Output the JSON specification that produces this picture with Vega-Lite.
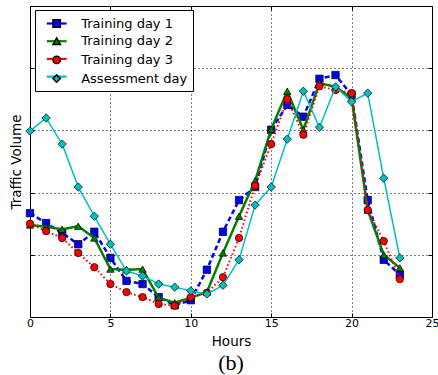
{
  "$schema": "https://vega.github.io/schema/vega-lite/v6.json",
  "width": 402,
  "height": 311,
  "autosize": "none",
  "padding": {"left": 30, "top": 6, "right": 6, "bottom": 58},
  "config": {
    "font": "DejaVu Sans",
    "view": {"stroke": "black", "strokeWidth": 1},
    "axis": {
      "gridColor": "black",
      "gridDash": [1, 3],
      "gridOpacity": 1,
      "gridWidth": 1,
      "domain": false,
      "tickColor": "black",
      "tickSize": -4,
      "labelColor": "black",
      "labelFlush": false,
      "titleColor": "black",
      "titleFontWeight": "normal",
      "titleFontSize": 13.5,
      "labelFontSize": 11
    }
  },
  "title": {"text": "(b)", "orient": "bottom", "font": "Liberation Serif", "fontSize": 22, "fontWeight": "normal", "color": "black", "offset": 5},
  "data": {"values": [
    {"h":0,"s":"Training day 1","v":1.67},{"h":1,"s":"Training day 1","v":1.51},{"h":2,"s":"Training day 1","v":1.35},{"h":3,"s":"Training day 1","v":1.17},{"h":4,"s":"Training day 1","v":1.37},{"h":5,"s":"Training day 1","v":0.95},{"h":6,"s":"Training day 1","v":0.58},{"h":7,"s":"Training day 1","v":0.53},{"h":8,"s":"Training day 1","v":0.32},{"h":9,"s":"Training day 1","v":0.19},{"h":10,"s":"Training day 1","v":0.27},{"h":11,"s":"Training day 1","v":0.76},{"h":12,"s":"Training day 1","v":1.37},{"h":13,"s":"Training day 1","v":1.88},{"h":14,"s":"Training day 1","v":2.09},{"h":15,"s":"Training day 1","v":3.01},{"h":16,"s":"Training day 1","v":3.41},{"h":17,"s":"Training day 1","v":3.22},{"h":18,"s":"Training day 1","v":3.83},{"h":19,"s":"Training day 1","v":3.89},{"h":20,"s":"Training day 1","v":3.57},{"h":21,"s":"Training day 1","v":1.88},{"h":22,"s":"Training day 1","v":0.92},{"h":23,"s":"Training day 1","v":0.68},
    {"h":0,"s":"Training day 2","v":1.48},{"h":1,"s":"Training day 2","v":1.45},{"h":2,"s":"Training day 2","v":1.41},{"h":3,"s":"Training day 2","v":1.46},{"h":4,"s":"Training day 2","v":1.27},{"h":5,"s":"Training day 2","v":0.77},{"h":6,"s":"Training day 2","v":0.76},{"h":7,"s":"Training day 2","v":0.77},{"h":8,"s":"Training day 2","v":0.31},{"h":9,"s":"Training day 2","v":0.23},{"h":10,"s":"Training day 2","v":0.31},{"h":11,"s":"Training day 2","v":0.40},{"h":12,"s":"Training day 2","v":1.03},{"h":13,"s":"Training day 2","v":1.62},{"h":14,"s":"Training day 2","v":2.19},{"h":15,"s":"Training day 2","v":3.02},{"h":16,"s":"Training day 2","v":3.63},{"h":17,"s":"Training day 2","v":3.01},{"h":18,"s":"Training day 2","v":3.76},{"h":19,"s":"Training day 2","v":3.70},{"h":20,"s":"Training day 2","v":3.52},{"h":21,"s":"Training day 2","v":1.72},{"h":22,"s":"Training day 2","v":1.00},{"h":23,"s":"Training day 2","v":0.79},
    {"h":0,"s":"Training day 3","v":1.50},{"h":1,"s":"Training day 3","v":1.38},{"h":2,"s":"Training day 3","v":1.27},{"h":3,"s":"Training day 3","v":1.03},{"h":4,"s":"Training day 3","v":0.80},{"h":5,"s":"Training day 3","v":0.53},{"h":6,"s":"Training day 3","v":0.40},{"h":7,"s":"Training day 3","v":0.32},{"h":8,"s":"Training day 3","v":0.21},{"h":9,"s":"Training day 3","v":0.18},{"h":10,"s":"Training day 3","v":0.32},{"h":11,"s":"Training day 3","v":0.39},{"h":12,"s":"Training day 3","v":0.64},{"h":13,"s":"Training day 3","v":1.27},{"h":14,"s":"Training day 3","v":2.11},{"h":15,"s":"Training day 3","v":2.78},{"h":16,"s":"Training day 3","v":3.50},{"h":17,"s":"Training day 3","v":2.93},{"h":18,"s":"Training day 3","v":3.71},{"h":19,"s":"Training day 3","v":3.65},{"h":20,"s":"Training day 3","v":3.60},{"h":21,"s":"Training day 3","v":1.72},{"h":22,"s":"Training day 3","v":1.22},{"h":23,"s":"Training day 3","v":0.61},
    {"h":0,"s":"Assessment day","v":2.99},{"h":1,"s":"Assessment day","v":3.20},{"h":2,"s":"Assessment day","v":2.78},{"h":3,"s":"Assessment day","v":2.09},{"h":4,"s":"Assessment day","v":1.62},{"h":5,"s":"Assessment day","v":1.17},{"h":6,"s":"Assessment day","v":0.74},{"h":7,"s":"Assessment day","v":0.66},{"h":8,"s":"Assessment day","v":0.53},{"h":9,"s":"Assessment day","v":0.48},{"h":10,"s":"Assessment day","v":0.42},{"h":11,"s":"Assessment day","v":0.37},{"h":12,"s":"Assessment day","v":0.51},{"h":13,"s":"Assessment day","v":0.92},{"h":14,"s":"Assessment day","v":1.80},{"h":15,"s":"Assessment day","v":2.09},{"h":16,"s":"Assessment day","v":2.86},{"h":17,"s":"Assessment day","v":3.63},{"h":18,"s":"Assessment day","v":3.05},{"h":19,"s":"Assessment day","v":3.70},{"h":20,"s":"Assessment day","v":3.46},{"h":21,"s":"Assessment day","v":3.60},{"h":22,"s":"Assessment day","v":2.23},{"h":23,"s":"Assessment day","v":0.95}
  ]},
  "encoding": {
    "x": {"field": "h", "type": "quantitative", "scale": {"domain": [0, 25], "nice": false, "zero": false}, "axis": null},
    "y": {"field": "v", "type": "quantitative", "scale": {"domain": [0, 5], "nice": false}, "axis": null}
  },
  "layer": [
    {"transform": [{"filter": "datum.s === 'Training day 1'"}],
     "mark": {"type": "line", "strokeWidth": 2.5},
     "encoding": {
       "x": {"field": "h", "type": "quantitative", "title": "Hours",
             "axis": {"orient": "bottom", "grid": true, "values": [0, 5, 10, 15, 20, 25], "labelPadding": 4, "titlePadding": 6}},
       "y": {"field": "v", "type": "quantitative", "title": "Traffic Volume",
             "axis": {"orient": "left", "grid": true, "values": [0, 1, 2, 3, 4, 5], "labels": false, "titlePadding": 6}},
       "stroke": {"field": "s", "type": "nominal", "sort": ["Training day 1", "Training day 2", "Training day 3", "Assessment day"], "scale": {"range": ["#0000ff", "#008000", "#ff0000", "#00bfbf"]},
                  "legend": {"title": null, "orient": "none", "legendX": 5, "legendY": 4, "strokeColor": "black", "fillColor": "white", "padding": 7, "labelFontSize": 13, "labelExpr": "''", "symbolType": "M-2.6,0H2.6", "symbolSize": 58, "symbolStrokeWidth": 2.2, "symbolFillColor": "transparent", "symbolOffset": 8.2, "labelOffset": 122, "rowPadding": 3.7}},
       "strokeDash": {"field": "s", "type": "nominal", "sort": ["Training day 1", "Training day 2", "Training day 3", "Assessment day"], "scale": {"range": [[5, 3], [1, 0], [1.5, 2.5], [1, 0]]}, "legend": null}
     }},
    {"transform": [{"filter": "datum.s === 'Training day 1'"}],
     "mark": {"type": "point", "filled": true, "stroke": "black", "strokeWidth": 0.7, "size": 55, "opacity": 1},
     "encoding": {
       "x": {"field": "h", "type": "quantitative", "axis": {"orient": "top", "grid": false, "labels": false, "title": null, "values": [5, 10, 15, 20]}},
       "y": {"field": "v", "type": "quantitative", "axis": {"orient": "right", "grid": false, "labels": false, "title": null, "values": [1, 2, 3, 4]}},
       "fill": {"field": "s", "type": "nominal", "scale": {"domain": ["Training day 1", "Training day 2", "Training day 3", "Assessment day"], "range": ["#0000ff", "#008000", "#ff0000", "#00bfbf"]},
                "legend": {"title": null, "orient": "none", "legendX": 5, "legendY": 4, "strokeColor": "transparent", "fillColor": "transparent", "padding": 7, "labelFontSize": 13, "labelColor": "black", "symbolSize": 55, "symbolOffset": 8.2, "labelOffset": 18, "rowPadding": 3.7, "labelLimit": 200,
                           "encode": {"symbols": {"update": {"stroke": {"value": "black"}, "strokeWidth": {"value": 0.7}}}}}},
       "shape": {"field": "s", "type": "nominal", "scale": {"domain": ["Training day 1", "Training day 2", "Training day 3", "Assessment day"], "range": ["square", "triangle-up", "circle", "diamond"]}, "legend": {"title": null}}
     }},
    {"transform": [{"filter": "datum.s === 'Training day 2'"}],
     "mark": {"type": "line", "strokeWidth": 2.5},
     "encoding": {
       "stroke": {"field": "s", "type": "nominal", "sort": ["Training day 1", "Training day 2", "Training day 3", "Assessment day"]},
       "strokeDash": {"field": "s", "type": "nominal", "sort": ["Training day 1", "Training day 2", "Training day 3", "Assessment day"], "legend": null}
     }},
    {"transform": [{"filter": "datum.s === 'Training day 2'"}],
     "mark": {"type": "point", "filled": true, "stroke": "black", "strokeWidth": 0.7, "size": 55, "opacity": 1},
     "encoding": {
       "fill": {"field": "s", "type": "nominal"},
       "shape": {"field": "s", "type": "nominal"}
     }},
    {"transform": [{"filter": "datum.s === 'Training day 3'"}],
     "mark": {"type": "line", "strokeWidth": 2},
     "encoding": {
       "stroke": {"field": "s", "type": "nominal", "sort": ["Training day 1", "Training day 2", "Training day 3", "Assessment day"]},
       "strokeDash": {"field": "s", "type": "nominal", "sort": ["Training day 1", "Training day 2", "Training day 3", "Assessment day"], "legend": null}
     }},
    {"transform": [{"filter": "datum.s === 'Training day 3'"}],
     "mark": {"type": "point", "filled": true, "stroke": "black", "strokeWidth": 0.7, "size": 55, "opacity": 1},
     "encoding": {
       "fill": {"field": "s", "type": "nominal"},
       "shape": {"field": "s", "type": "nominal"}
     }},
    {"transform": [{"filter": "datum.s === 'Assessment day'"}],
     "mark": {"type": "line", "strokeWidth": 1.5},
     "encoding": {
       "stroke": {"field": "s", "type": "nominal", "sort": ["Training day 1", "Training day 2", "Training day 3", "Assessment day"]},
       "strokeDash": {"field": "s", "type": "nominal", "sort": ["Training day 1", "Training day 2", "Training day 3", "Assessment day"], "legend": null}
     }},
    {"transform": [{"filter": "datum.s === 'Assessment day'"}],
     "mark": {"type": "point", "filled": true, "stroke": "black", "strokeWidth": 0.7, "size": 70, "opacity": 1},
     "encoding": {
       "fill": {"field": "s", "type": "nominal"},
       "shape": {"field": "s", "type": "nominal"}
     }}
  ],
  "resolve": {"axis": {"x": "independent", "y": "independent"}}
}
